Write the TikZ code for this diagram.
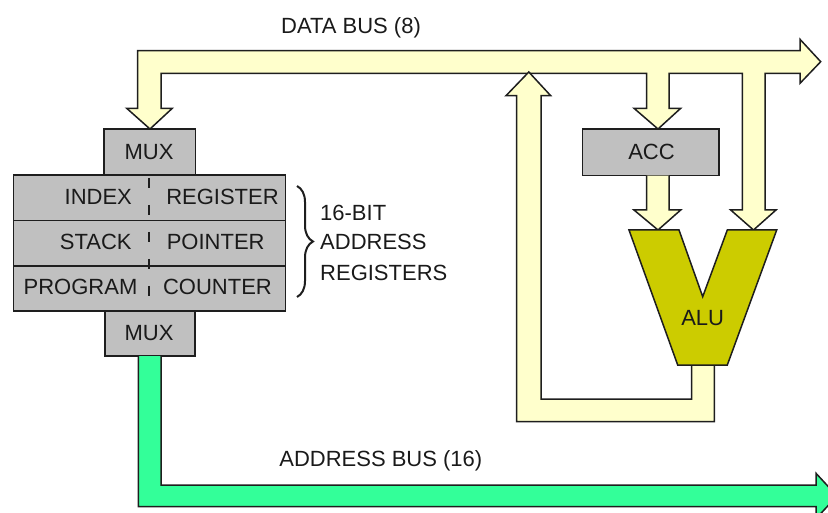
\documentclass[tikz,border=0pt]{standalone}
\usepackage{fontspec}
\setmainfont{Liberation Sans}
\usetikzlibrary{decorations.pathreplacing}
\definecolor{busY}{HTML}{FFFFCC}
\definecolor{busG}{HTML}{33FF99}
\definecolor{boxG}{HTML}{C0C0C0}
\definecolor{aluY}{HTML}{CCCC00}
\definecolor{edgeC}{HTML}{1E1E1E}
\definecolor{txtC}{HTML}{1A1A1A}
\begin{document}
\begin{tikzpicture}[x=1pt,y=-1pt,
  font=\fontsize{22}{29.5}\selectfont,
  busline/.style={draw=edgeC, line width=1.5pt, line join=miter},
  regbox/.style={draw=edgeC, fill=boxG, line width=1.5pt, inner sep=0pt, outer sep=0pt},
  lbl/.style={text=txtC, inner sep=0pt, text height=15.8pt, text depth=0pt}]
\useasboundingbox (0,0) rectangle (828,513);
\clip (0,0) rectangle (828,513);

% labels of buses
\node[lbl] (dbl) at (351,26) {DATA BUS (8)};
\node[lbl] (abl) at (380.8,459) {ADDRESS BUS (16)};

% data bus
\draw[busline, fill=busY] (137.7,108.3) -- (126.7,108.3) -- (150,129) -- (172.3,108.3) -- (161,108.3)
  -- (161,73.3) -- (646.7,73.3) -- (646.7,108.3) -- (634,108.3) -- (658,129) -- (680.7,108.3)
  -- (669,108.3) -- (669,73.3) -- (742.3,73.3) -- (742.3,210) -- (730.7,210) -- (753.5,230)
  -- (776,210) -- (765,210) -- (765,73.3) -- (800,73.3) -- (800,83.3) -- (820.7,61.7)
  -- (800,39.3) -- (800,50.7) -- (137.7,50.7) -- cycle;

% boxes
\node[regbox, minimum width=91.7pt, minimum height=46pt] (muxT) at (149.85,152) {};
\node[lbl] (muxTl) at (149,152) {MUX};
\node[regbox, minimum width=136.3pt, minimum height=46.7pt] (acc) at (650.85,152.35) {};
\node[lbl] (accl) at (651.5,151.5) {ACC};
\node[regbox, minimum width=90pt, minimum height=45pt] (muxB) at (150,333.5) {};
\node[lbl] (muxBl) at (149,333) {MUX};

\node[regbox, minimum width=272.4pt, minimum height=45.7pt] (rowI) at (149.5,197.85) {};
\node[regbox, minimum width=272.4pt, minimum height=45.3pt] (rowS) at (149.5,243.35) {};
\node[regbox, minimum width=272.4pt, minimum height=45pt] (rowP) at (149.5,288.5) {};
\draw[draw=edgeC, line width=1.5pt, dash pattern=on 10pt off 17pt, dash phase=-3pt] (149,175) -- (149,311);

\node[lbl] (tI) at (98.3,196.8) {INDEX};
\node[lbl] (tR) at (222.5,196.8) {REGISTER};
\node[lbl] (tS) at (95.8,241.5) {STACK};
\node[lbl] (tP) at (215.7,241.5) {POINTER};
\node[lbl] (tPr) at (80.5,286.2) {PROGRAM};
\node[lbl] (tC) at (217.5,286.2) {COUNTER};

% brace and label
\coordinate (brT) at (297,186);
\coordinate (brB) at (297,297);
\draw[draw=edgeC, line width=2pt, decorate, decoration={brace, amplitude=16pt}] (brT) -- (brB);
\node[lbl, anchor=west] (b1) at (320,213) {16-BIT};
\node[lbl, anchor=west] (b2) at (320,242) {ADDRESS};
\node[lbl, anchor=west] (b3) at (320,272.5) {REGISTERS};

% ACC to ALU
\draw[busline, fill=busY] (646.7,175.7) -- (646.7,210) -- (634,210) -- (658,230) -- (680.7,210)
  -- (669,210) -- (669,175.7);

% feedback path
\draw[busline, fill=busY] (714.3,365) -- (714.3,421.7) -- (516.7,421.7) -- (516.7,95.7) -- (506,95.7)
  -- (528.8,72) -- (550.7,95.7) -- (541,95.7) -- (541,399) -- (691.7,399) -- (691.7,365);

% ALU
\draw[busline, fill=aluY] (629,230) -- (679,230) -- (702.7,296.7) -- (727.3,230) -- (776.7,230)
  -- (727.3,365) -- (677.7,365) -- cycle;
\node[lbl] (alu) at (702.7,318) {ALU};

% address bus
\draw[busline, fill=busG] (161,356) -- (161,485) -- (816,485) -- (816,473.3) -- (837,496)
  -- (816,518.7) -- (816,506.7) -- (138.3,506.7) -- (138.3,356);
\end{tikzpicture}
\end{document}
